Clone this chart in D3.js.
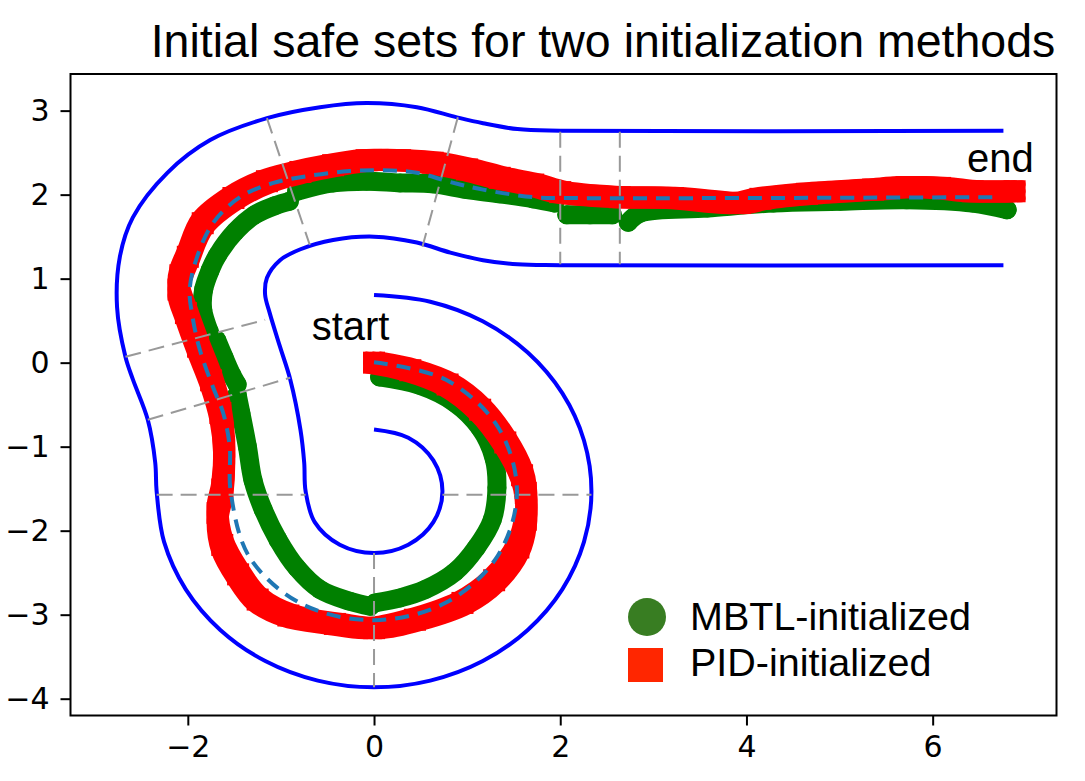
<!DOCTYPE html>
<html><head><meta charset="utf-8">
<script src="https://cdn.jsdelivr.net/npm/d3@7"></script>
<style>body{margin:0;background:#fff}</style>
</head><body>
<svg id="c" width="1085" height="781"></svg>
<script>
// ---------- data ----------
const xDomain = [-3.26, 7.33];
const yDomain = [3.436, -4.2];
const xTicks = [-2, 0, 2, 4, 6];
const yTicks = [3, 2, 1, 0, -1, -2, -3, -4];
const titleText = "Initial safe sets for two initialization methods";
const legendLabels = ["MBTL-initialized", "PID-initialized"];
const annotations = [{text: "start", x: -0.67, y: 0.27}, {text: "end", x: 6.37, y: 2.27}];

const outerBoundary = [[0,0.805],[0.604,0.725],[1.168,0.492],[1.651,0.121],[2.022,-0.363],[2.255,-0.926],[2.335,-1.53],[2.255,-2.134],[2.022,-2.698],[1.651,-3.181],[1.168,-3.552],[0.604,-3.785],[0,-3.865],[-0.604,-3.785],[-1.168,-3.552],[-1.651,-3.181],[-2.022,-2.698],[-2.255,-2.134],[-2.335,-1.53],[-2.35,-1.19],[-2.43,-0.68],[-2.59,-0.20],[-2.67,0.07],[-2.76,0.66],[-2.73,1.26],[-2.59,1.73],[-2.22,2.26],[-1.76,2.65],[-1.15,2.91],[-0.58,3.04],[-0.08,3.09],[0.46,3.04],[0.89,2.92],[1.17,2.85],[1.54,2.78],[2.0,2.76],[6.76,2.76]];
const innerBoundary = [[0,-0.795],[0.368,-0.893],[0.637,-1.163],[0.735,-1.53],[0.637,-1.898],[0.368,-2.167],[0,-2.265],[-0.368,-2.167],[-0.637,-1.898],[-0.735,-1.53],[-0.75,-1.19],[-0.79,-0.80],[-0.90,-0.20],[-1.01,0.19],[-1.12,0.59],[-1.17,0.81],[-1.15,1.01],[-1.01,1.22],[-0.79,1.35],[-0.44,1.46],[0,1.50],[0.46,1.43],[0.82,1.31],[1.17,1.22],[1.54,1.17],[2.0,1.16],[6.76,1.16]];
const centerline = [[0,0.005],[0.768,-0.201],[1.329,-0.763],[1.535,-1.53],[1.329,-2.298],[0.768,-2.859],[0,-3.065],[-0.78,-2.87],[-1.34,-2.31],[-1.54,-1.53],[-1.55,-1.00],[-1.62,-0.60],[-1.73,-0.29],[-1.87,0.15],[-1.95,0.55],[-1.98,0.87],[-1.90,1.26],[-1.73,1.66],[-1.44,1.97],[-1.08,2.14],[-0.66,2.23],[-0.26,2.28],[0.10,2.29],[0.46,2.26],[0.82,2.15],[1.17,2.06],[1.71,1.97],[2.07,1.96],[6.72,1.97]];
const segmentLines = [
  [[0,-2.265],[0,-3.865]],
  [[0.735,-1.573],[2.335,-1.573]],
  [[-2.335,-1.573],[-0.735,-1.573]],
  [[-2.43,-0.68],[-0.90,-0.18]],
  [[-2.67,0.07],[-1.17,0.51]],
  [[-1.15,2.91],[-0.69,1.40]],
  [[0.90,2.92],[0.52,1.38]],
  [[2.0,2.75],[2.0,1.17]],
  [[2.64,2.75],[2.64,1.17]]
];
const pidPoints = [[0,0],[0.39,-0.09],[0.79,-0.26],[1.14,-0.56],[1.41,-0.95],[1.59,-1.34],[1.63,-1.55],[1.63,-1.87],[1.55,-2.20],[1.29,-2.59],[0.95,-2.86],[0.44,-3.06],[0,-3.16],[-0.42,-3.11],[-0.92,-3.01],[-1.25,-2.82],[-1.46,-2.52],[-1.63,-2.17],[-1.68,-1.79],[-1.63,-1.51],[-1.61,-1.00],[-1.65,-0.60],[-1.75,-0.21],[-1.89,0.19],[-2.02,0.59],[-2.10,0.87],[-2.08,1.04],[-2.0,1.26],[-1.84,1.66],[-1.51,1.96],[-1.15,2.16],[-0.79,2.27],[-0.44,2.35],[-0.08,2.41],[0.28,2.41],[0.63,2.38],[1.0,2.30],[1.35,2.20],[1.71,2.12],[2.0,2.03],[2.64,1.97],[3.21,1.96],[3.93,1.90],[4.15,1.95],[4.65,2.01],[5.36,2.06],[5.72,2.09],[6.08,2.08],[6.43,2.04],[6.88,2.04]];
const mbtlSeg1 = [[0.06,-0.17],[0.49,-0.27],[0.87,-0.48],[1.14,-0.78],[1.29,-1.14],[1.32,-1.49],[1.27,-1.87],[1.10,-2.20],[0.87,-2.49],[0.55,-2.70],[0.28,-2.80],[0.01,-2.86]];
const mbtlSeg2 = [[-0.04,-2.90],[-0.26,-2.84],[-0.58,-2.70],[-0.83,-2.44],[-1.03,-2.11],[-1.19,-1.75],[-1.30,-1.40],[-1.36,-1.00],[-1.43,-0.60],[-1.47,-0.38]];
const mbtlSeg3 = [[-1.69,0.27],[-1.61,0.06],[-1.53,-0.14],[-1.47,-0.26]];
const mbtlSeg4 = [[-1.77,0.37],[-1.84,0.63],[-1.83,0.87],[-1.76,1.10],[-1.68,1.28],[-1.49,1.56],[-1.28,1.76],[-1.06,1.87],[-0.91,1.92]];
const mbtlSeg5 = [[-0.83,2.04],[-0.44,2.14],[-0.08,2.16],[0.28,2.14],[0.63,2.13],[1.0,2.06],[1.35,2.01],[1.71,1.95],[1.94,1.90]];
const mbtlSeg6 = [[2.07,1.76],[2.32,1.76],[2.56,1.76]];
const mbtlSeg7 = [[2.73,1.67],[2.86,1.78],[3.58,1.84],[4.29,1.90],[5.01,1.92],[5.72,1.94],[6.43,1.90],[6.80,1.82]];
const mbtlSegments = [mbtlSeg1, mbtlSeg2, mbtlSeg3, mbtlSeg4, mbtlSeg5, mbtlSeg6, mbtlSeg7];

// ---------- drawing ----------
const plot = {left: 70.5, right: 1056.5, top: 74, bottom: 715.5};
const x = d3.scaleLinear().domain(xDomain).range([plot.left, plot.right]);
const y = d3.scaleLinear().domain(yDomain).range([plot.top, plot.bottom]);
const svg = d3.select("#c");
const sansA = "'Liberation Sans', Arial, Helvetica, sans-serif";
const sansD = "'DejaVu Sans', sans-serif";

const smooth = d3.line().x(d => x(d[0])).y(d => y(d[1])).curve(d3.curveCatmullRom.alpha(0.5));
const straight = d3.line().x(d => x(d[0])).y(d => y(d[1]));

const g = svg.append("g");

// track boundaries
[outerBoundary, innerBoundary].forEach(b => {
  g.append("path").attr("d", smooth(b)).attr("fill", "none")
    .attr("stroke", "#0000ff").attr("stroke-width", 4);
});

// MBTL (green): dense round markers -> round brush
const GREEN = "#008000";
mbtlSegments.forEach(seg => {
  g.append("path").attr("d", smooth(seg)).attr("fill", "none")
    .attr("stroke", GREEN).attr("stroke-width", 19)
    .attr("stroke-linecap", "round").attr("stroke-linejoin", "round");
  g.selectAll(null).data(seg).join("circle")
    .attr("cx", d => x(d[0])).attr("cy", d => y(d[1])).attr("r", 9.5).attr("fill", GREEN);
});

// PID (red): dense square markers -> square brush (union of shifted thin strokes)
const RED = "#ff0000";
const brush = [-7, 0, 7];
const pidPath = smooth(pidPoints);
brush.forEach(dx => brush.forEach(dy => {
  g.append("path").attr("d", pidPath).attr("fill", "none")
    .attr("transform", `translate(${dx},${dy})`)
    .attr("stroke", RED).attr("stroke-width", 8)
    .attr("stroke-linecap", "round").attr("stroke-linejoin", "round");
}));
g.selectAll(null).data(pidPoints).join("rect")
  .attr("x", d => x(d[0]) - 11).attr("y", d => y(d[1]) - 11)
  .attr("width", 22).attr("height", 22).attr("fill", RED);

// segment boundaries
segmentLines.forEach(s => {
  g.append("path").attr("d", straight(s)).attr("fill", "none")
    .attr("stroke", "#999999").attr("stroke-width", 2).attr("stroke-dasharray", "16,8");
});

// centerline
g.append("path").attr("d", smooth(centerline)).attr("fill", "none")
  .attr("stroke", "#1f77b4").attr("stroke-width", 4).attr("stroke-dasharray", "14,9");

// annotations
annotations.forEach(a => {
  svg.append("text").attr("x", x(a.x)).attr("y", y(a.y)).text(a.text)
    .attr("font-family", sansA).attr("font-size", 40).attr("fill", "#000");
});

// axes
const xAxis = d3.axisBottom(x).tickValues(xTicks).tickSize(10).tickPadding(10).tickSizeOuter(0);
const yAxis = d3.axisLeft(y).tickValues(yTicks).tickSize(10).tickPadding(11).tickSizeOuter(0);
const gx = svg.append("g").attr("transform", `translate(0,${plot.bottom})`).call(xAxis);
const gy = svg.append("g").attr("transform", `translate(${plot.left},0)`).call(yAxis);
[gx, gy].forEach(a => {
  a.select(".domain").remove();
  a.selectAll(".tick line").attr("stroke", "#000").attr("stroke-width", 2);
  a.selectAll(".tick text").attr("font-family", sansD).attr("font-size", 30).attr("fill", "#000");
});

// frame
svg.append("rect").attr("x", plot.left).attr("y", plot.top)
  .attr("width", plot.right - plot.left).attr("height", plot.bottom - plot.top)
  .attr("fill", "none").attr("stroke", "#000").attr("stroke-width", 2);

// title
svg.append("text").attr("x", 603).attr("y", 57).attr("text-anchor", "middle")
  .attr("font-family", sansA).attr("font-size", 46.5).attr("fill", "#000").text(titleText);

// legend
const lg = svg.append("g");
lg.append("circle").attr("cx", 647).attr("cy", 617).attr("r", 19).attr("fill", "#387d22");
lg.append("rect").attr("x", 628).attr("y", 648).attr("width", 35).attr("height", 34).attr("fill", "#ff2600");
legendLabels.forEach((t, i) => {
  lg.append("text").attr("x", 690).attr("y", 630 + i * 46).text(t)
    .attr("font-family", sansA).attr("font-size", 39.5).attr("fill", "#000");
});
</script>
</body></html>
